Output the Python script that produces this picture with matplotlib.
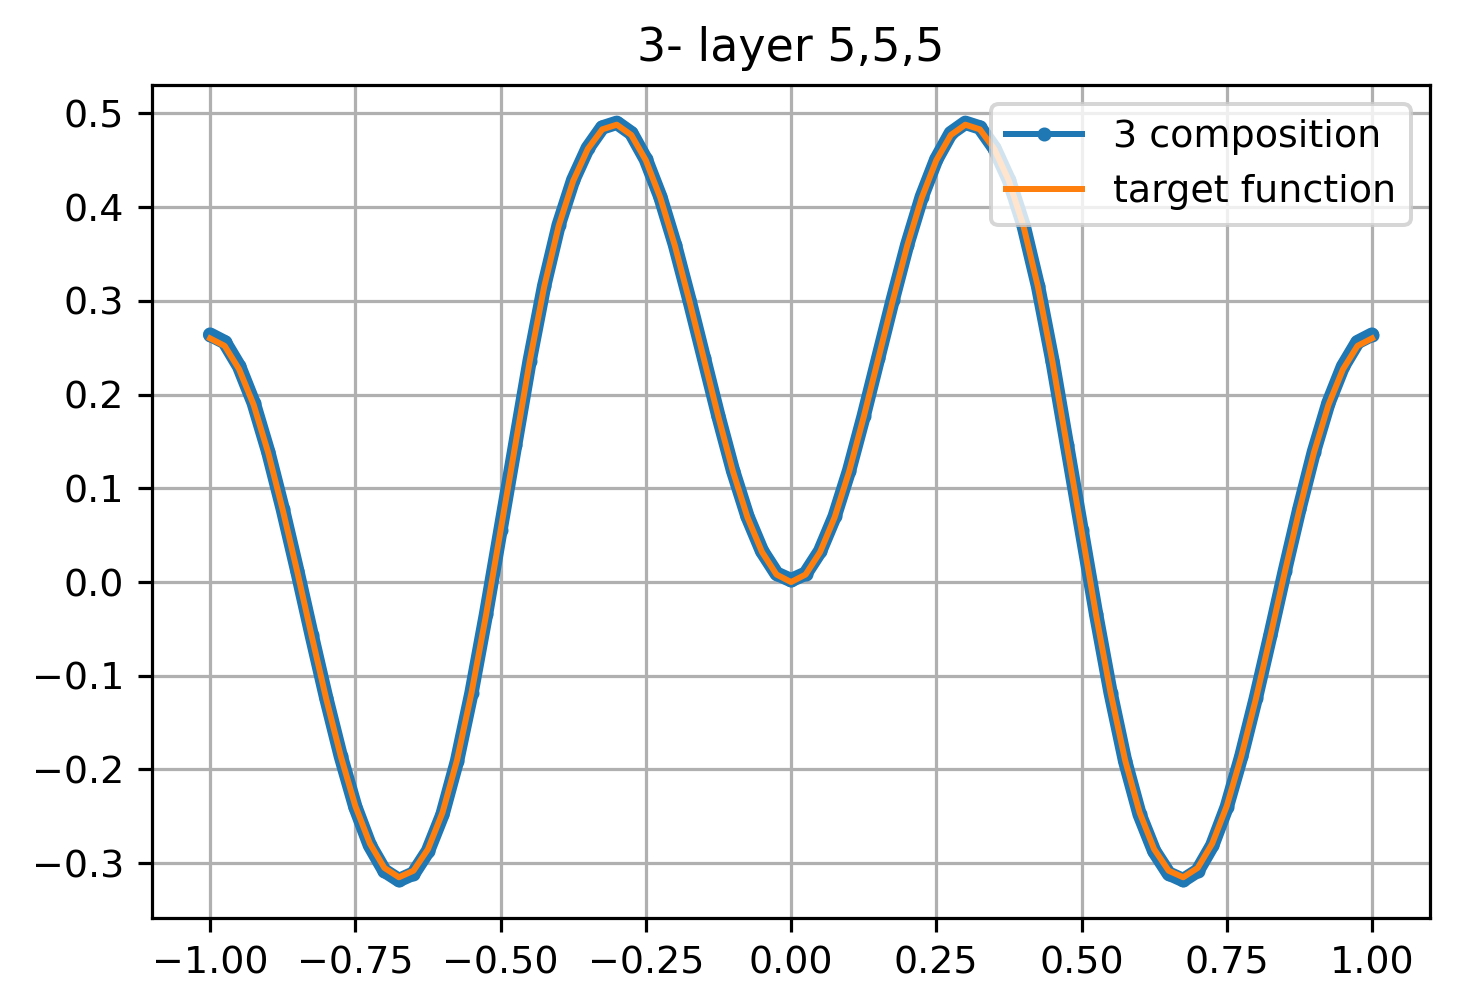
import matplotlib
matplotlib.use("Agg")
import matplotlib.pyplot as plt

# values, right half (x >= 0); the curve is mirrored about x = 0
x_right = [0.0, 0.025, 0.05, 0.075, 0.1, 0.125, 0.15, 0.175, 0.2, 0.225,
           0.25, 0.275, 0.3, 0.325, 0.35, 0.375, 0.4, 0.425, 0.45, 0.475,
           0.5, 0.525, 0.55, 0.575, 0.6, 0.625, 0.65, 0.675, 0.7, 0.725,
           0.75, 0.775, 0.8, 0.825, 0.85, 0.875, 0.9, 0.925, 0.95, 0.975, 1.0]
target_right = [0.0, 0.008, 0.032, 0.069, 0.118, 0.176, 0.238, 0.300, 0.359, 0.410,
                0.450, 0.477, 0.488, 0.483, 0.462, 0.428, 0.380, 0.315, 0.235, 0.145,
                0.055, -0.035, -0.118, -0.190, -0.246, -0.285, -0.308, -0.315, -0.305, -0.279,
                -0.239, -0.186, -0.125, -0.058, 0.011, 0.077, 0.138, 0.189, 0.227, 0.252, 0.260]
comp_right = [0.002, 0.009, 0.033, 0.070, 0.119, 0.177, 0.239, 0.301, 0.360, 0.411,
              0.451, 0.479, 0.490, 0.485, 0.463, 0.429, 0.381, 0.316, 0.236, 0.146,
              0.056, -0.034, -0.118, -0.191, -0.248, -0.287, -0.311, -0.318, -0.308, -0.281,
              -0.240, -0.186, -0.124, -0.057, 0.012, 0.078, 0.139, 0.191, 0.230, 0.256, 0.264]

x = [-v for v in x_right[:0:-1]] + x_right
target = target_right[:0:-1] + target_right
comp = comp_right[:0:-1] + comp_right

plt.rcParams['font.size'] = 9.5

fig = plt.figure(figsize=(1476 / 288, 1004 / 288), dpi=288)
ax = fig.add_axes([0.103, 0.0857, 0.8659, 0.8297])

# thick band underneath stands in for the dense marker trail
ax.plot(x, comp, color='C0', lw=3.6, solid_capstyle='round', solid_joinstyle='round', label='_nolegend_')
ax.plot(x, comp, '.-', color='C0', lw=1.5, ms=5, label='3 composition')
ax.plot(x, target, color='C1', lw=1.5, label='target function')

ax.set_title('3- layer 5,5,5', fontsize=11.5)
ax.grid(True)
ax.legend(loc='upper right')

fig.savefig('out.png', dpi=288)
